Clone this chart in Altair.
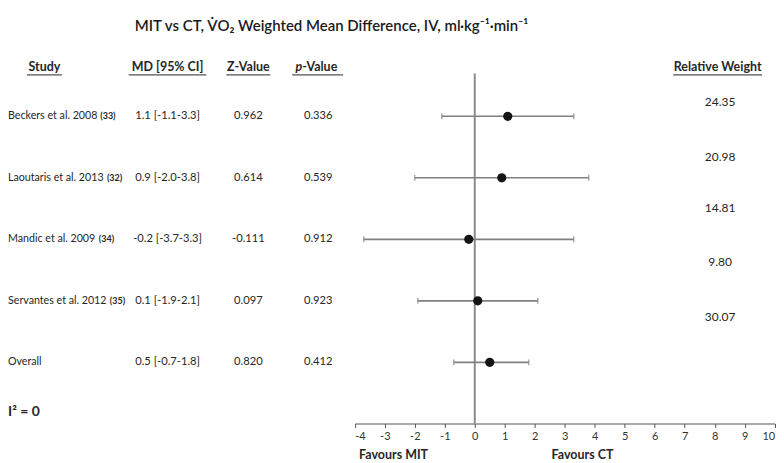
import altair as alt
import pandas as pd

# ---------------- data ----------------
studies = ["Beckers et al. 2008", "Laoutaris et al. 2013", "Mandic et al. 2009",
           "Servantes et al. 2012", "Overall"]
refs = ["(33)", "(32)", "(34)", "(35)", ""]
md = [1.1, 0.9, -0.2, 0.1, 0.5]
ci_lo = [-1.1, -2.0, -3.7, -1.9, -0.7]
ci_hi = [3.3, 3.8, 3.3, 2.1, 1.8]
md_text = ["1.1 [-1.1-3.3]", "0.9 [-2.0-3.8]", "-0.2 [-3.7-3.3]", "0.1 [-1.9-2.1]", "0.5 [-0.7-1.8]"]
z_vals = ["0.962", "0.614", "-0.111", "0.097", "0.820"]
p_vals = ["0.336", "0.539", "0.912", "0.923", "0.412"]
weights = ["24.35", "20.98", "14.81", "9.80", "30.07"]
x_ticks = list(range(-4, 11))

# layout (row units on the y scale) for the weight column, which sits offset from the rows
weight_rows = [-0.24, 0.66, 1.49, 2.37, 3.26]

FONT = "Lato"
TXT = "#262626"
ROW_FS = 11.2
NAME_FS = 10.7

rows = list(range(len(studies)))
df = pd.DataFrame({"row": rows, "study": studies, "ref": refs, "md": md,
                   "lo": ci_lo, "hi": ci_hi, "mdt": md_text, "z": z_vals, "p": p_vals})
dw = pd.DataFrame({"row": weight_rows, "w": weights})

xs = alt.Scale(domain=[-4, 10], range=[347.7, 768.7], nice=False, zero=False)
ys = alt.Scale(domain=[0, 4], range=[108, 354.7], nice=False, zero=False)

base = alt.Chart(df)

# approximate text width (em units) to place bold reference numbers after names
CW = {' ': 0.226, '.': 0.252, 'a': 0.479, 'B': 0.544, 'c': 0.423, 'd': 0.525, 'e': 0.498,
      'i': 0.229, 'k': 0.455, 'l': 0.229, 'n': 0.525, 'o': 0.527, 'r': 0.349, 's': 0.391,
      't': 0.335, 'u': 0.525, 'L': 0.420, 'M': 0.855, 'S': 0.459, 'O': 0.662, 'v': 0.452}
def text_w(s, fs):
    return sum(CW.get(c, 0.507) for c in s) * fs * 1.08

layers = []

# zero line + axis
layers.append(alt.Chart(pd.DataFrame({"x": [0]})).mark_rule(color="#8c8c8c", strokeWidth=2).encode(
    x=alt.X("x:Q", scale=xs, axis=alt.Axis(values=x_ticks, labelExpr="'' + datum.value", labelOverlap=False,
                                           grid=False, title=None, domainColor="#555555", tickColor="#555555",
                                           tickSize=4, labelFontSize=11, labelFont=FONT,
                                           labelColor="#333333", labelPadding=3, domainWidth=1.2)),
    y=alt.value(65), y2=alt.value(416)))

# CI lines
layers.append(base.mark_rule(color="#808080", strokeWidth=1.6).encode(
    x=alt.X("lo:Q", scale=xs), x2="hi:Q", y=alt.Y("row:Q", scale=ys, axis=None)))
# caps
for f in ["lo", "hi"]:
    layers.append(base.mark_tick(color="#808080", orient="vertical", size=6, thickness=1.4).encode(
        x=alt.X(f"{f}:Q", scale=xs), y=alt.Y("row:Q", scale=ys, axis=None)))
# points
layers.append(base.mark_circle(color="#141414", opacity=1, size=85).encode(
    x=alt.X("md:Q", scale=xs), y=alt.Y("row:Q", scale=ys, axis=None)))

# table columns
def col(field, xpx, align="center", fs=ROW_FS):
    return base.mark_text(font=FONT, fontSize=fs, color=TXT, align=align, baseline="middle").encode(
        x=alt.value(xpx), y=alt.Y("row:Q", scale=ys, axis=None), text=f"{field}:N")

layers.append(col("study", 0, "left", NAME_FS))
for i, (s, r) in enumerate(zip(studies, refs)):
    if r:
        layers.append(alt.Chart(pd.DataFrame({"row": [i], "ref": [r]})).mark_text(
            font=FONT, fontSize=9, fontWeight="bold", color=TXT, align="left", baseline="middle").encode(
            x=alt.value(text_w(s, NAME_FS) + 4), y=alt.Y("row:Q", scale=ys, axis=None), text="ref:N"))
layers.append(col("mdt", 160))
layers.append(col("z", 241))
layers.append(col("p", 311))
layers.append(alt.Chart(dw).mark_text(font=FONT, fontSize=12, color=TXT, align="center", baseline="middle").encode(
    x=alt.value(714), y=alt.Y("row:Q", scale=ys, axis=None), text="w:N"))

# headers with underline
headers = ["Study", "MD [95% CI]", "Z-Value", "p-Value", "Relative Weight"]
hx = [36.5, 160, 241, 295, 711.5]
hspan = [(19, 54), (121, 199), (219, 263), (285, 336), (667, 756)]
for h, x, (a, b) in zip(headers, hx, hspan):
    if h == "p-Value":
        layers.append(alt.Chart(pd.DataFrame({"t": ["p"]})).mark_text(
            font=FONT, fontSize=12.5, fontWeight="bold", fontStyle="italic", color=TXT, align="right",
            baseline="middle").encode(x=alt.value(x), y=alt.value(59), text="t:N"))
        layers.append(alt.Chart(pd.DataFrame({"t": ["-Value"]})).mark_text(
            font=FONT, fontSize=12.5, fontWeight="bold", color=TXT, align="left",
            baseline="middle").encode(x=alt.value(x), y=alt.value(59), text="t:N"))
    else:
        layers.append(alt.Chart(pd.DataFrame({"t": [h]})).mark_text(
            font=FONT, fontSize=12.5, fontWeight="bold", color=TXT, align="center",
            baseline="middle").encode(x=alt.value(x), y=alt.value(59), text="t:N"))
    layers.append(alt.Chart(pd.DataFrame({"t": [h]})).mark_rule(color=TXT, strokeWidth=1).encode(
        x=alt.value(a), x2=alt.value(b), y=alt.value(66.5)))

# title
layers.append(alt.Chart(pd.DataFrame({"t": ["MIT vs CT, V\u0307O\u2082 Weighted Mean Difference, IV, ml\u00b7kg\u207b\u00b9\u00b7min\u207b\u00b9"]})).mark_text(
    font=FONT, fontSize=15, fontWeight=600, color="#1a1a1a", align="left", baseline="middle").encode(
    x=alt.value(127), y=alt.value(17), text="t:N"))

# I^2
layers.append(alt.Chart(pd.DataFrame({"t": ["I\u00b2 = 0"]})).mark_text(
    font=FONT, fontSize=14, fontWeight="bold", color=TXT, align="left", baseline="middle").encode(
    x=alt.value(0), y=alt.value(404), text="t:N"))

# favours labels
for t, x in [("Favours MIT", 352), ("Favours CT", 545)]:
    layers.append(alt.Chart(pd.DataFrame({"t": [t]})).mark_text(
        font=FONT, fontSize=12.5, fontWeight="bold", color=TXT, align="left", baseline="middle").encode(
        x=alt.value(x), y=alt.value(448), text="t:N"))

chart = alt.layer(*layers).properties(width=770, height=416, padding=0).configure_view(stroke=None)

chart.save("out.html", embed_options={"renderer": "svg", "actions": False})
